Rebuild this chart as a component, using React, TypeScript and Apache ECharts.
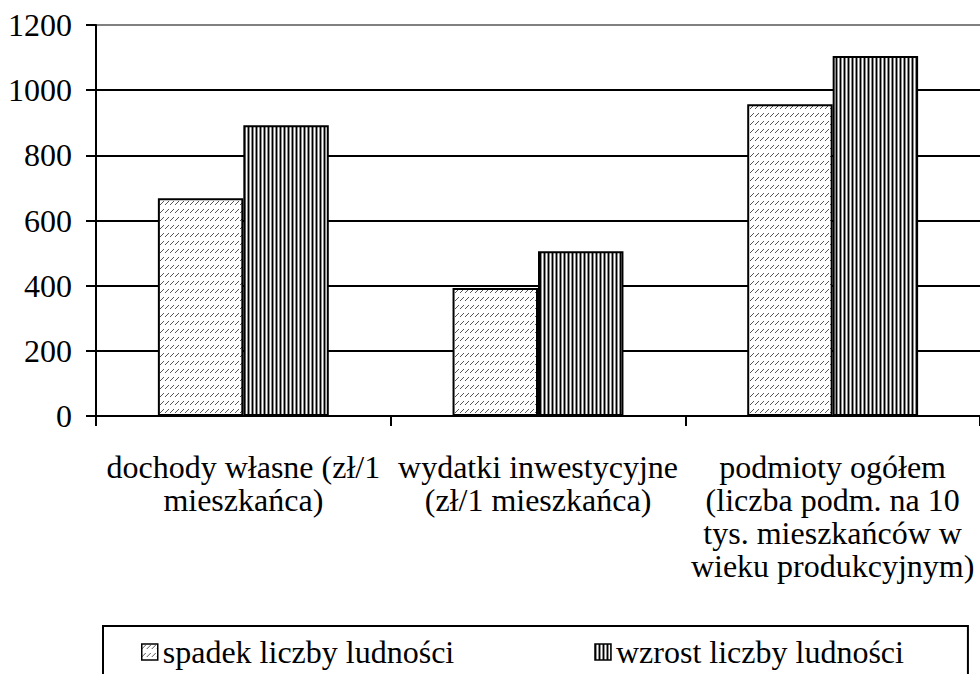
import React, { useEffect, useRef } from "react";
import * as echarts from "echarts";

const categories = [
  "dochody własne (zł/1\nmieszkańca)",
  "wydatki inwestycyjne\n(zł/1 mieszkańca)",
  "podmioty ogółem\n(liczba podm. na 10\ntys. mieszkańców w\nwieku produkcyjnym)",
];
const seriesNames = ["spadek liczby ludności", "wzrost liczby ludności"];
const spadekValues = [668, 393, 957];
const wzrostValues = [892, 506, 1105];
const yMin = 0;
const yMax = 1200;
const yInterval = 200;

const FONT = "Liberation Serif";

function makeHatch(): HTMLCanvasElement {
  const c = document.createElement("canvas");
  c.width = 5;
  c.height = 8;
  const ctx = c.getContext("2d")!;
  ctx.fillStyle = "#ffffff";
  ctx.fillRect(0, 0, 5, 8);
  ctx.fillStyle = "#555555";
  for (let i = 0; i < 4; i++) ctx.fillRect(i, 4 - i, 1, 1);
  return c;
}

function makeStripes(): HTMLCanvasElement {
  const c = document.createElement("canvas");
  c.width = 4;
  c.height = 4;
  const ctx = c.getContext("2d")!;
  const cols = ["#000000", "#8c8c8c", "#ffffff", "#8c8c8c"];
  cols.forEach((col, i) => {
    ctx.fillStyle = col;
    ctx.fillRect(i, 0, 1, 4);
  });
  return c;
}

export default function App() {
  const ref = useRef<HTMLDivElement>(null);
  useEffect(() => {
    if (!ref.current) return;
    const chart = echarts.init(ref.current, undefined, { renderer: "svg" });
    const hatch = { image: makeHatch(), repeat: "repeat" };
    const stripes = { image: makeStripes(), repeat: "repeat" };
    chart.setOption({
      animation: false,
      backgroundColor: "#ffffff",
      textStyle: { fontFamily: FONT },
      grid: { left: 96, right: -3, top: 25, bottom: 258, containLabel: false },
      legend: {
        data: seriesNames,
        left: 103,
        top: 626,
        orient: "horizontal",
        icon: "rect",
        itemWidth: 16,
        itemHeight: 16,
        itemGap: 140,
        padding: [10, 64, 40, 38],
        borderColor: "#000",
        borderWidth: 2,
        itemStyle: { borderColor: "#000", borderWidth: 1.5 },
        textStyle: { fontFamily: FONT, fontSize: 32, color: "#000", lineHeight: 32 },
      },
      xAxis: {
        type: "category",
        data: categories,
        axisLine: { show: true, lineStyle: { color: "#000", width: 2 } },
        axisTick: { show: true, length: 10, alignWithLabel: false, lineStyle: { color: "#000", width: 2 } },
        axisLabel: {
          interval: 0,
          fontFamily: FONT,
          fontSize: 32,
          lineHeight: 33,
          color: "#000",
          margin: 34,
        },
        splitLine: { show: false },
      },
      yAxis: {
        type: "value",
        min: yMin,
        max: yMax,
        interval: yInterval,
        axisLine: { show: true, lineStyle: { color: "#000", width: 2 } },
        axisTick: { show: true, length: 10, lineStyle: { color: "#000", width: 2 } },
        axisLabel: {
          fontFamily: FONT,
          fontSize: 32,
          color: "#000",
          margin: 24,
          formatter: (v: number) => String(v),
        },
        splitLine: {
          show: true,
          lineStyle: {
            color: ["#000", "#000", "#000", "#000", "#000", "#000", "#808080"],
            width: 2,
          },
        },
      },
      series: [
        {
          name: seriesNames[0],
          type: "bar",
          data: spadekValues,
          barGap: "0%",
          barCategoryGap: "42%",
          itemStyle: { color: hatch, borderColor: "#000", borderWidth: 2 },
        },
        {
          name: seriesNames[1],
          type: "bar",
          data: wzrostValues,
          barGap: "0%",
          barCategoryGap: "42%",
          itemStyle: { color: stripes, borderColor: "#000", borderWidth: 2 },
        },
      ],
    });
    return () => chart.dispose();
  }, []);
  return (
    <div
      ref={ref}
      style={{ position: "fixed", left: 0, top: 0, width: 980, height: 674 }}
    />
  );
}
